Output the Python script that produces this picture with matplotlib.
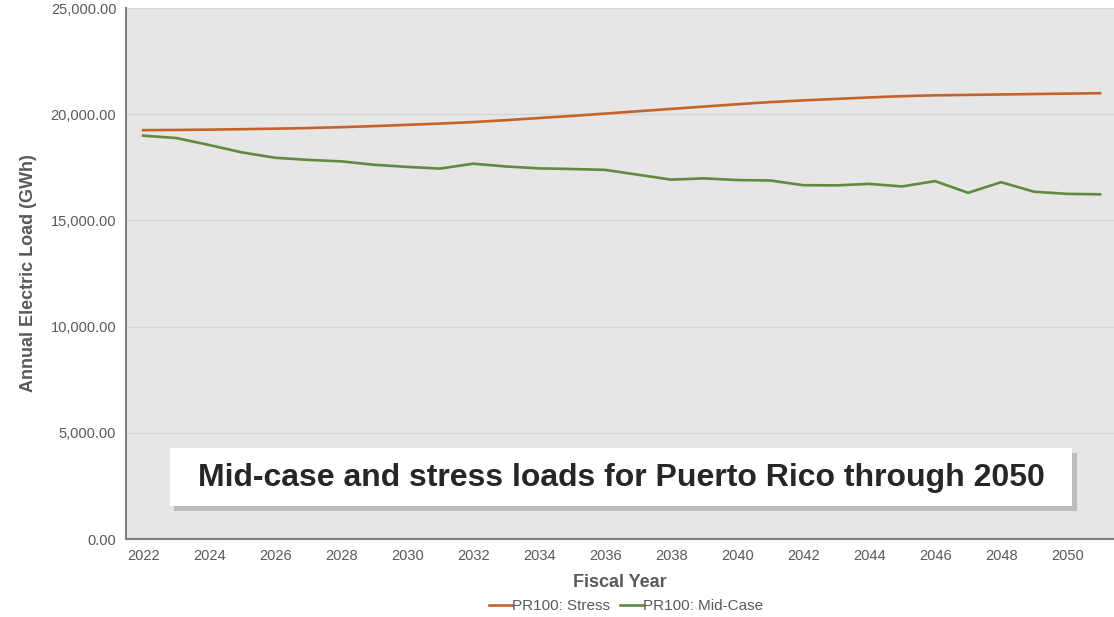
import matplotlib.pyplot as plt
from matplotlib.ticker import FuncFormatter
from matplotlib.patches import FancyBboxPatch
import matplotlib.patheffects as pe

plt.rcParams['font.family'] = ['Liberation Sans', 'DejaVu Sans']

years = list(range(2022, 2052))
stress = [19250, 19260, 19275, 19295, 19320, 19350, 19390, 19440, 19500, 19560,
          19630, 19720, 19820, 19920, 20030, 20140, 20250, 20360, 20470, 20570,
          20650, 20720, 20790, 20850, 20890, 20910, 20930, 20950, 20970, 20990]
mid_case = [18990, 18880, 18550, 18200, 17950, 17850, 17780, 17620, 17520, 17440,
            17670, 17540, 17450, 17420, 17380, 17150, 16920, 16980, 16900, 16880,
            16660, 16650, 16720, 16600, 16850, 16300, 16800, 16350, 16250, 16230]
x_ticks = list(range(2022, 2051, 2))
y_ticks = [0, 5000, 10000, 15000, 20000, 25000]

STRESS_COLOR = "#C5622A"
MID_COLOR = "#5E8B3F"
TEXT_GRAY = "#595959"

fig = plt.figure(figsize=(11.14, 6.17), dpi=100)
ax = fig.add_axes([0.1131, 0.1264, 0.8869, 0.8606])
ax.set_facecolor("#E6E6E6")

ax.plot(years, stress, color=STRESS_COLOR, lw=1.9, solid_joinstyle="round", label="PR100: Stress")
ax.plot(years, mid_case, color=MID_COLOR, lw=1.9, solid_joinstyle="round", label="PR100: Mid-Case")

ax.set_xlim(2021.48, 2051.42)
ax.set_ylim(0, 25000)
ax.set_xticks(x_ticks)
ax.set_yticks(y_ticks)
ax.yaxis.set_major_formatter(FuncFormatter(lambda v, _: f"{v:,.2f}"))
ax.tick_params(length=0, labelsize=10.5, colors=TEXT_GRAY, pad=7)
ax.grid(axis="y", color="#D6D6D6", lw=1)
ax.set_axisbelow(True)

for side in ["top", "right"]:
    ax.spines[side].set_visible(False)
for side in ["left", "bottom"]:
    ax.spines[side].set_color("#808080")
    ax.spines[side].set_linewidth(1.5)

ax.set_ylabel("Annual Electric Load (GWh)", fontsize=13, fontweight="bold", color=TEXT_GRAY, labelpad=10)
ax.set_xlabel("Fiscal Year", fontsize=13, fontweight="bold", color=TEXT_GRAY, labelpad=8)

fig.legend(loc="center", bbox_to_anchor=(0.562, 0.018), ncol=2, frameon=False, fontsize=11,
           handlelength=1.5, handletextpad=0.05, columnspacing=0.6, labelcolor=TEXT_GRAY)

# caption box with drop shadow
box = FancyBboxPatch((0.1526, 0.180), 0.810, 0.094, boxstyle="square,pad=0",
                     transform=fig.transFigure, facecolor="white", edgecolor="none",
                     path_effects=[pe.SimplePatchShadow(offset=(3, -4), shadow_rgbFace="#9A9A9A", alpha=0.55),
                                   pe.Normal()])
fig.add_artist(box)
fig.text(0.5578, 0.226, "Mid-case and stress loads for Puerto Rico through 2050",
         fontsize=23, fontweight="bold", color="#262626", ha="center", va="center")

fig.savefig("out.png", dpi=100)
